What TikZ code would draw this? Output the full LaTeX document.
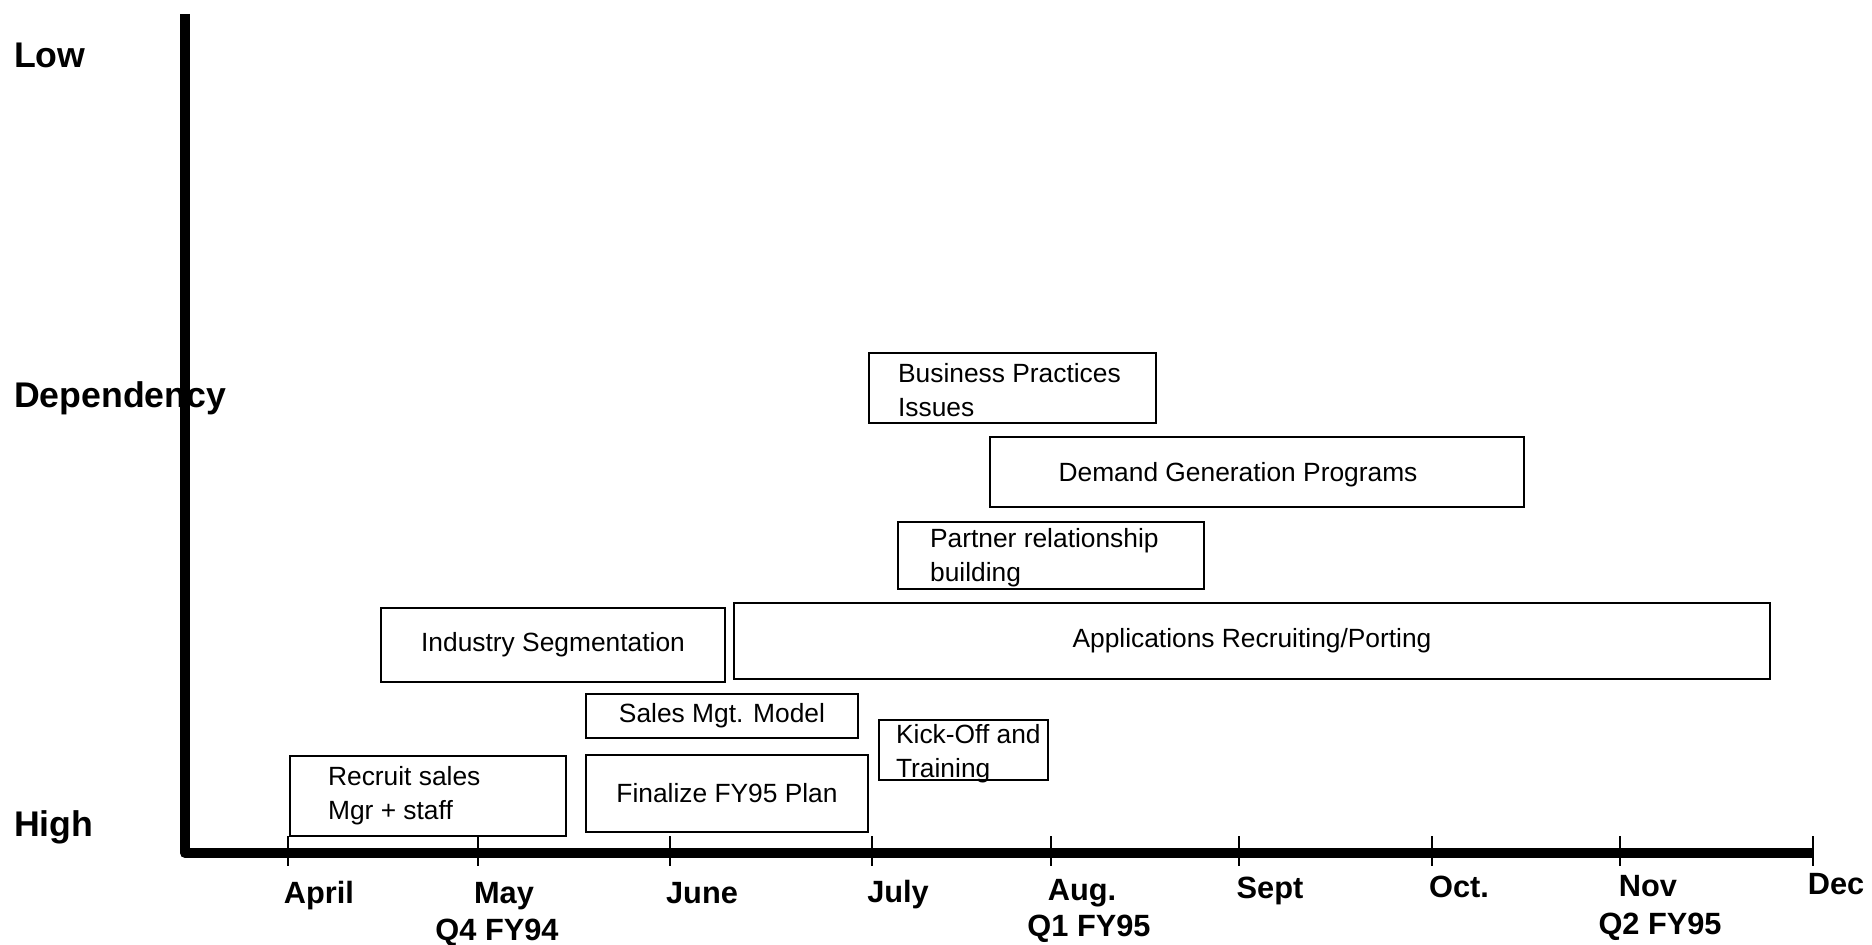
\documentclass[tikz,border=0pt]{standalone}
\usepackage{fontspec}
\setmainfont{Liberation Sans}
\usepackage{tikz}
\usetikzlibrary{positioning}
\tikzset{
  task/.style={draw,line width=1.3pt,rectangle,inner sep=0pt,font=\fontsize{15}{19.3}\selectfont},
  tasktext/.style={anchor=west,align=left,font=\fontsize{15}{19.3}\selectfont},
  month/.style={anchor=base,font=\bfseries\fontsize{17.5}{20}\selectfont},
  level/.style={anchor=base west,font=\bfseries\fontsize{20.3}{24}\selectfont}
}
\begin{document}
\begin{tikzpicture}[x=0.02cm,y=-0.02cm]
    \useasboundingbox (0,0) rectangle (1872,945);
    %axes
    \coordinate (ytop) at (185,14);
    \coordinate (origin) at (185,853);
    \coordinate (xend) at (1813,853);
    \draw[line width=5.8pt,line join=round](ytop)--(origin)--(xend);
    \foreach \x in {288,478,670,872,1051,1239,1432,1620,1813}
      \draw[line width=1pt](\x,836)--(\x,866);
    \foreach \x/\y/\m in {319/903/April,504/903/May,702/903/June,898/902/July,1082/900/Aug.,1270/898/Sept,1459/897/Oct.,1648/896/Nov,1836/894/Dec}
      \node[month] at (\x,\y) {\m};
    \node[month] at (497,940) {Q4 FY94};
    \node[month] at (1089,936) {Q1 FY95};
    \node[month] at (1660,934) {Q2 FY95};
    \node[level] (low) at (8,68) {Low};
    \node[level] (dep) at (8,408) {Dependency};
    \node[level] (high) at (8,836) {High};
    %tasks
    \node[task,minimum width=5.52cm,minimum height=1.6cm,
      label={[tasktext,xshift=0.66cm]west:Recruit sales\\Mgr + staff}]
      (recruit) at (428,796) {};
    \node[task,minimum width=5.64cm,minimum height=1.54cm] (finalize) at (727,793.5) {Finalize FY95 Plan};
    \node[task,minimum width=5.44cm,minimum height=0.88cm] (salesmgt) at (722,716) {Sales Mgt. Model};
    \node[task,minimum width=3.38cm,minimum height=1.2cm,
      label={[tasktext,xshift=0.24cm,yshift=-0.08cm]west:Kick-Off and\\Training}]
      (kickoff) at (963.5,750) {};
    \node[task,minimum width=6.88cm,minimum height=1.48cm] (industry) at (553,645) {Industry Segmentation};
    \node[task,minimum width=20.72cm,minimum height=1.52cm] (apps) at (1252,641) {Applications Recruiting/Porting};
    \node[task,minimum width=6.12cm,minimum height=1.34cm,
      label={[tasktext,xshift=0.54cm,yshift=-0.04cm]west:Partner relationship\\building}]
      (partner) at (1051,555.5) {};
    \node[task,minimum width=10.68cm,minimum height=1.4cm,
      label={[font=\fontsize{15}{19.3}\selectfont,xshift=-0.38cm,yshift=-0.06cm]center:Demand Generation Programs}]
      (demand) at (1257,472) {};
    \node[task,minimum width=5.74cm,minimum height=1.4cm,
      label={[tasktext,xshift=0.48cm,yshift=-0.04cm]west:Business Practices\\Issues}]
      (business) at (1012.5,388) {};
\end{tikzpicture}
\end{document}
